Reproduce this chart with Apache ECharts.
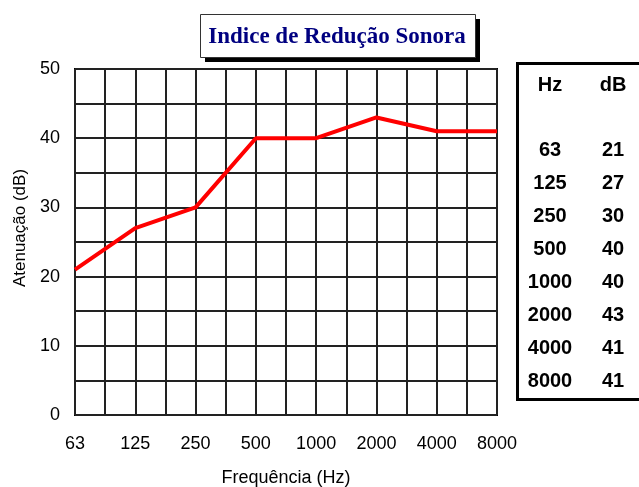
<!DOCTYPE html>
<html>
<head>
<meta charset="utf-8">
<script src="https://cdn.jsdelivr.net/npm/echarts@6/dist/echarts.min.js"></script>
<style>html,body{margin:0;padding:0;background:#fff}#c{width:639px;height:487px}</style>
</head>
<body>
<div id="c"></div>
<script>
var freqLabels = ['63', '125', '250', '500', '1000', '2000', '4000', '8000'];
var attenuation = [21, 27, 30, 40, 40, 43, 41, 41];
var yTicks = [0, 10, 20, 30, 40, 50];
var titleText = 'Indice de Redução Sonora';
var xName = 'Frequência (Hz)';
var yName = 'Atenuação (dB)';

var lineData = attenuation.map(function (v, i) { return [i * 2, v]; });

var graphics = [
  // title shadow + box
  { type: 'rect', left: 205, top: 19, shape: { width: 275, height: 43 }, style: { fill: '#000' }, z: 10 },
  { type: 'rect', left: 200, top: 14, shape: { width: 275, height: 43 }, style: { fill: '#fff', stroke: '#333', lineWidth: 1 }, z: 11 },
  { type: 'text', x: 337, y: 37, style: { text: titleText, font: 'bold 23px "Liberation Serif"', fill: '#000080', textAlign: 'center', textVerticalAlign: 'middle' }, z: 12 },
  // table
  { type: 'rect', left: 516, top: 62, shape: { width: 130, height: 336 }, style: { fill: '#fff', stroke: '#000', lineWidth: 3 }, z: 10 },
  { type: 'text', x: 550, y: 85, style: { text: 'Hz', font: 'bold 20px "Liberation Sans"', fill: '#000', textAlign: 'center', textVerticalAlign: 'middle' }, z: 12 },
  { type: 'text', x: 613, y: 85, style: { text: 'dB', font: 'bold 20px "Liberation Sans"', fill: '#000', textAlign: 'center', textVerticalAlign: 'middle' }, z: 12 }
];
freqLabels.forEach(function (f, i) {
  var y = 150 + i * 33;
  graphics.push({ type: 'text', x: 550, y: y, style: { text: f, font: 'bold 20px "Liberation Sans"', fill: '#000', textAlign: 'center', textVerticalAlign: 'middle' }, z: 12 });
  graphics.push({ type: 'text', x: 613, y: y, style: { text: String(attenuation[i]), font: 'bold 20px "Liberation Sans"', fill: '#000', textAlign: 'center', textVerticalAlign: 'middle' }, z: 12 });
});

var chart = echarts.init(document.getElementById('c'), null, { renderer: 'canvas' });
chart.setOption({
  animation: false,
  backgroundColor: '#fff',
  grid: {
    left: 75, right: 142, top: 69, bottom: 72,
    containLabel: false, outerBoundsMode: 'none',
    show: true, borderColor: '#000', borderWidth: 2, backgroundColor: 'transparent'
  },
  xAxis: {
    type: 'value', min: 0, max: 14, interval: 1,
    name: xName, nameLocation: 'middle', nameGap: 54,
    nameTextStyle: { fontFamily: 'Liberation Sans', fontSize: 18, color: '#000' },
    axisLine: { show: false }, axisTick: { show: false },
    axisLabel: {
      margin: 20, fontFamily: 'Liberation Sans', fontSize: 18, color: '#000',
      formatter: function (v) { return (v % 2 === 0) ? freqLabels[v / 2] : ''; }
    },
    splitLine: { show: true, lineStyle: { color: '#222', width: 2 } }
  },
  yAxis: {
    type: 'value', min: 0, max: 50, interval: 5,
    name: yName, nameLocation: 'middle', nameGap: 42,
    nameTextStyle: { fontFamily: 'Liberation Sans', fontSize: 17, color: '#000', padding: [0, 0, 0, 28] },
    axisLine: { show: false }, axisTick: { show: false },
    axisLabel: {
      margin: 15, fontFamily: 'Liberation Sans', fontSize: 18, color: '#000',
      formatter: function (v) { return yTicks.indexOf(v) >= 0 ? String(v) : ''; }
    },
    splitLine: { show: true, lineStyle: { color: '#222', width: 2 } }
  },
  series: [{
    type: 'line', data: lineData, symbol: 'none',
    lineStyle: { color: '#ff0000', width: 4 }, z: 5
  }],
  graphic: graphics
});
</script>
</body>
</html>
